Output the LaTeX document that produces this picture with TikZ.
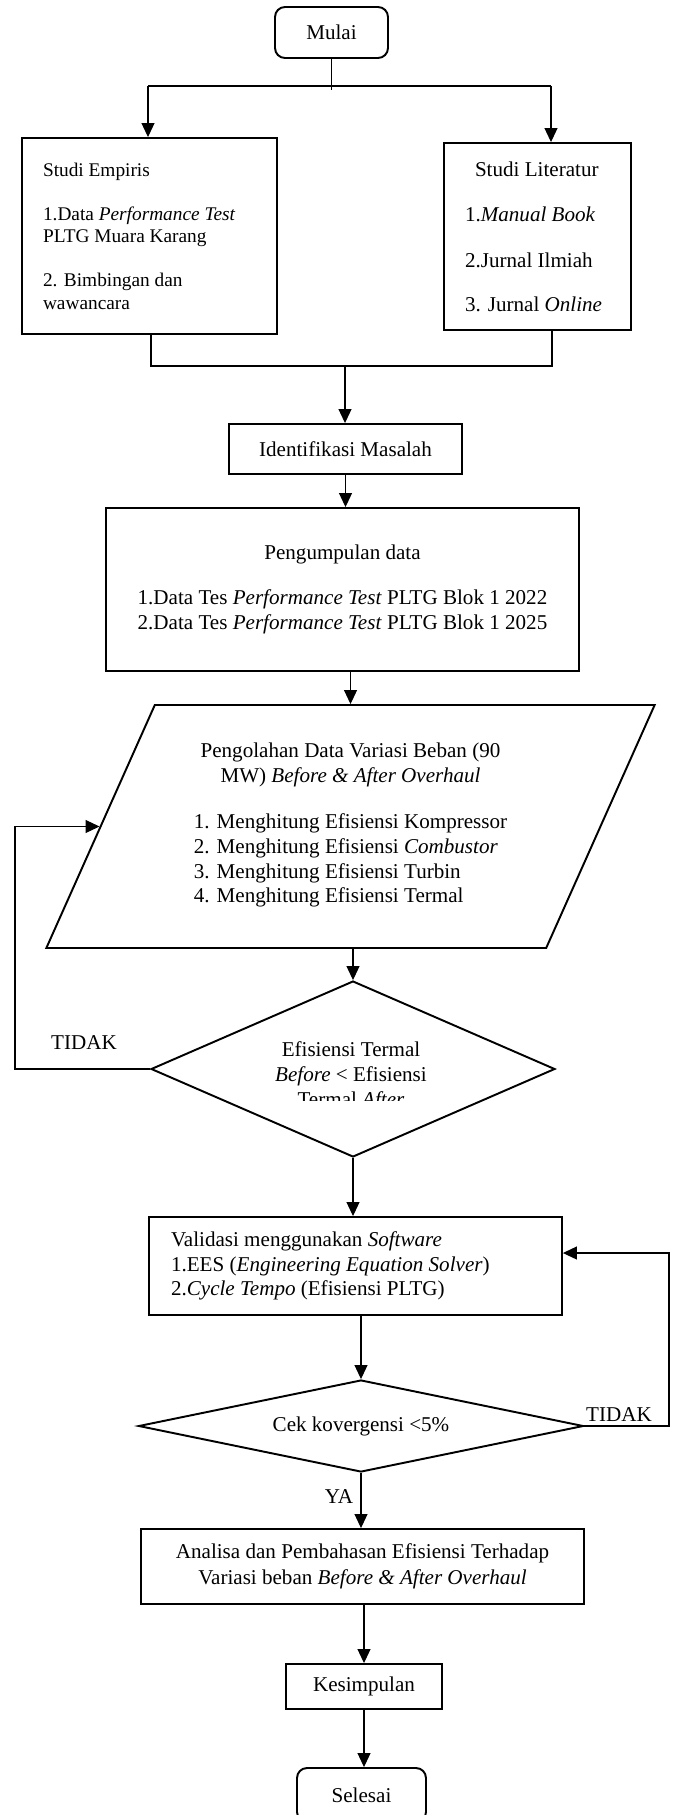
\documentclass[tikz,border=0pt]{standalone}
\usepackage{fontspec}
\setmainfont{Liberation Serif}
\usetikzlibrary{arrows.meta,shapes.geometric}
\begin{document}
\begin{tikzpicture}[x=0.02cm,y=-0.02cm,font=\fontsize{12}{14}\selectfont,
  box/.style={draw=black,line width=1.1pt},
  awal/.style={box,rounded corners=2mm},
  cek/.style={box,diamond,inner sep=0pt},
  garis/.style={draw=black,line width=0.6pt},
  panah/.style={garis,-{Triangle[length=2.8mm,width=2.6mm]}}]
\useasboundingbox (0,0) rectangle (675,1815);
\node[awal,minimum width=22.6mm,minimum height=10.2mm] (mulai) at (331.5,32.5) {Mulai};
\node[box,minimum width=51mm,minimum height=39.2mm,text width=42.6mm,align=flush left,font=\fontsize{11}{12.6}\selectfont] (empiris) at (149.5,236)
  {Studi Empiris\\[12.6pt]1.Data \textit{Performance Test}\\PLTG Muara Karang\\[12.6pt]2. Bimbingan dan\\wawancara};
\node[box,minimum width=37.4mm,minimum height=37.4mm,text width=29mm,align=flush left,font=\fontsize{12}{13}\selectfont] (literatur) at (537.5,236.5)
  {\hspace*{2mm}Studi Literatur\\[13pt]1.\textit{Manual Book}\\[13pt]2.Jurnal Ilmiah\\[12pt]3. Jurnal \textit{Online}};
\node[box,minimum width=46.6mm,minimum height=10mm] (ident) at (345.5,449) {Identifikasi Masalah};
\node[box,minimum width=94.6mm,minimum height=32.6mm,align=center] (kumpul) at (342.5,589.5)
  {Pengumpulan data\\[11.4pt]1.Data Tes \textit{Performance Test} PLTG Blok 1 2022\\2.Data Tes \textit{Performance Test} PLTG Blok 1 2025};
\node[box,trapezium,trapezium left angle=63.3,trapezium right angle=116.7,trapezium stretches=true,
  minimum width=122.2mm,minimum height=48.6mm,align=center] (olah) at (350.5,826.5)
  {Pengolahan Data Variasi Beban (90\\MW) \textit{Before \& After Overhaul}\\[12.7pt]
   \begin{tabular}[t]{@{}l@{}}1. Menghitung Efisiensi Kompressor\\2. Menghitung Efisiensi \textit{Combustor}\\
   3. Menghitung Efisiensi Turbin\\4. Menghitung Efisiensi Termal\end{tabular}};
\node[cek,minimum width=80.8mm,minimum height=35.2mm] (cek1) at (353,1069) {};
\begin{scope}
\clip (0,0) rectangle (675,1100);
\node[align=center,font=\fontsize{12}{14.2}\selectfont] (cek1txt) at (351,1076) {Efisiensi Termal\\\textit{Before} < Efisiensi\\Termal \textit{After}};
\end{scope}
\node[box,minimum width=82.6mm,minimum height=19.6mm,text width=73.8mm,align=flush left] (valid) at (355.5,1266)
  {Validasi menggunakan \textit{Software}\\1.EES (\textit{Engineering Equation Solver})\\2.\textit{Cycle Tempo} (Efisiensi PLTG)};
\node[cek,aspect=4.8,minimum width=89mm,minimum height=18.4mm] (cek2) at (361,1426) {Cek kovergensi <5\%};
\node[box,minimum width=88.6mm,minimum height=15mm,align=center,font=\fontsize{12}{14.8}\selectfont] (analisa) at (362.5,1566.5)
  {Analisa dan Pembahasan Efisiensi Terhadap\\Variasi beban \textit{Before \& After Overhaul}};
\node[box,minimum width=31.2mm,minimum height=9mm] (simpul) at (364,1686.5) {Kesimpulan};
\node[awal,minimum width=25.8mm,minimum height=10.8mm] (selesai) at (361.5,1795) {Selesai};
\node (tidak1) at (84,1043) {TIDAK};
\node (tidak2) at (619,1415) {TIDAK};
\node (ya) at (339,1497) {YA};
\draw[garis] (mulai.south) -- ++(0,31);
\coordinate (bagiL) at (148,86);
\coordinate (bagiR) at (551,86);
\draw[garis] (bagiL) -- (bagiR);
\draw[panah] (bagiL) -- (bagiL |- empiris.north);
\draw[panah] (bagiR) -- (bagiR |- literatur.north);
\coordinate (gabL) at (151,366);
\coordinate (gabR) at (552,366);
\coordinate (gabM) at (345,366);
\draw[garis] (gabL |- empiris.south) -- (gabL) -- (gabR) -- (gabR |- literatur.south);
\draw[panah] (gabM) -- (gabM |- ident.north);
\draw[panah] (ident.south) -- (ident.south |- kumpul.north);
\draw[panah] (kumpul.south -| olah.north) -- (olah.north);
\draw[panah] (olah.south -| cek1.north) -- (cek1.north);
\draw[panah] (cek1.south) -- (cek1.south |- valid.north);
\draw[panah] (valid.south -| cek2.north) -- (cek2.north);
\draw[panah] (cek2.south) -- (cek2.south |- analisa.north);
\draw[panah] (analisa.south -| simpul.north) -- (simpul.north);
\draw[panah] (simpul.south) -- (simpul.south |- selesai.north);
\coordinate (kiri) at (15,0);
\draw[panah] (cek1.west) -- (cek1.west -| kiri) |- (olah.west);
\coordinate (kanan) at (669,1253);
\draw[panah] (cek2.east) -| (kanan) -- (kanan -| valid.east);
\end{tikzpicture}
\end{document}
